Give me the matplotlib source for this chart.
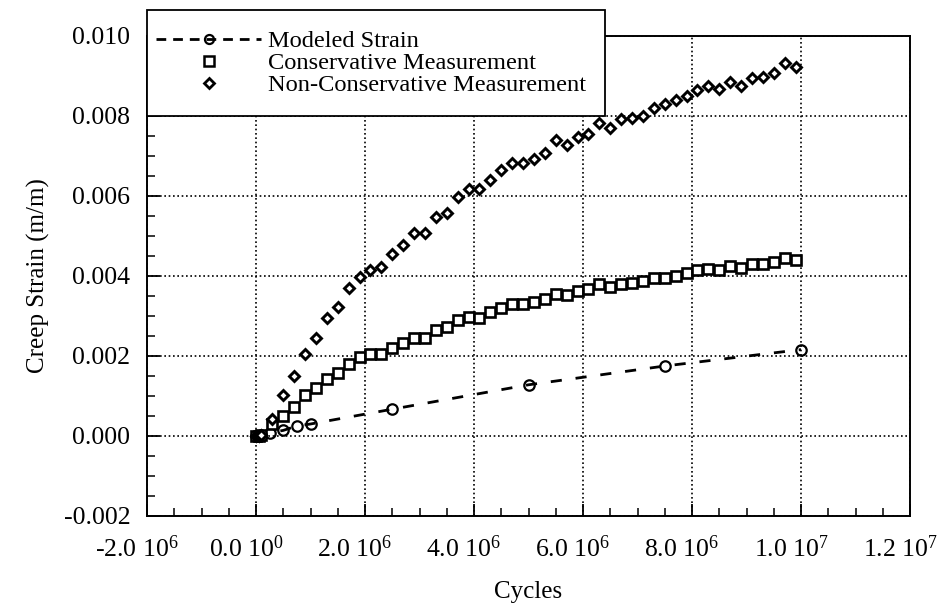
import matplotlib
matplotlib.use("Agg")
import matplotlib.pyplot as plt
from matplotlib.ticker import FixedLocator, MultipleLocator, FixedFormatter
from matplotlib.lines import Line2D
from matplotlib.patches import Rectangle
import matplotlib.transforms as mtransforms

plt.rcParams['font.family'] = ['Liberation Serif', 'DejaVu Serif']
plt.rcParams['mathtext.fontset'] = 'custom'
plt.rcParams['mathtext.rm'] = 'Liberation Serif'
plt.rcParams['mathtext.it'] = 'Liberation Serif:italic'
plt.rcParams['axes.unicode_minus'] = False

# ---------------- data ----------------
modeled_x = [0, 5e4, 1e5, 2.5e5, 5e5, 7.5e5, 1.0e6, 2.5e6, 5.0e6, 7.5e6, 1.0e7]
modeled_y = [0, 0, 0.00002, 0.00008, 0.00014, 0.00025, 0.00030, 0.00067, 0.00128, 0.00175, 0.00216]

meas_x = [0, 5e4, 1e5,
          3e5, 5e5, 7e5, 9e5, 1.1e6, 1.3e6, 1.5e6, 1.7e6, 1.9e6, 2.1e6,
          2.3e6, 2.5e6, 2.7e6, 2.9e6, 3.1e6, 3.3e6, 3.5e6, 3.7e6, 3.9e6, 4.1e6,
          4.3e6, 4.5e6, 4.7e6, 4.9e6, 5.1e6, 5.3e6, 5.5e6, 5.7e6, 5.9e6, 6.1e6,
          6.3e6, 6.5e6, 6.7e6, 6.9e6, 7.1e6, 7.3e6, 7.5e6, 7.7e6, 7.9e6, 8.1e6,
          8.3e6, 8.5e6, 8.7e6, 8.9e6, 9.1e6, 9.3e6, 9.5e6, 9.7e6, 9.9e6]

conservative_y = [0, 0, 0.00002,
                  0.00029, 0.00050, 0.00073, 0.00103, 0.00121, 0.00142, 0.00158, 0.00181, 0.00198, 0.00204,
                  0.00204, 0.00221, 0.00233, 0.00246, 0.00246, 0.00264, 0.00273, 0.00289, 0.00298, 0.00296,
                  0.00310, 0.00321, 0.00329, 0.00329, 0.00335, 0.00343, 0.00354, 0.00352, 0.00363, 0.00368,
                  0.00379, 0.00373, 0.00379, 0.00383, 0.00388, 0.00396, 0.00396, 0.00400, 0.00408, 0.00416,
                  0.00418, 0.00416, 0.00424, 0.00421, 0.00431, 0.00431, 0.00435, 0.00446, 0.00441]

nonconservative_y = [0, 0, 0.00002,
                     0.00042, 0.00103, 0.00150, 0.00206, 0.00246, 0.00294, 0.00323, 0.00369, 0.00398, 0.00414,
                     0.00423, 0.00456, 0.00478, 0.00507, 0.00508, 0.00548, 0.00558, 0.00597, 0.00617, 0.00617,
                     0.00640, 0.00665, 0.00683, 0.00682, 0.00692, 0.00707, 0.00740, 0.00728, 0.00748, 0.00756,
                     0.00783, 0.00769, 0.00792, 0.00796, 0.00800, 0.00819, 0.00829, 0.00839, 0.00851, 0.00865,
                     0.00875, 0.00868, 0.00886, 0.00876, 0.00895, 0.00898, 0.00908, 0.00933, 0.00923]

x_ticks = [-2e6, 0, 2e6, 4e6, 6e6, 8e6, 1e7, 1.2e7]
x_ticklabels = ["-2.0 10$^{6}$", "0.0 10$^{0}$", "2.0 10$^{6}$", "4.0 10$^{6}$",
                "6.0 10$^{6}$", "8.0 10$^{6}$", "1.0 10$^{7}$", "1.2 10$^{7}$"]
y_ticks = [-0.002, 0.0, 0.002, 0.004, 0.006, 0.008, 0.010]
y_ticklabels = ["-0.002", "0.000", "0.002", "0.004", "0.006", "0.008", "0.010"]

labels = ["Modeled Strain", "Conservative Measurement", "Non-Conservative Measurement"]

# ---------------- figure ----------------
W, H = 952, 612
fig = plt.figure(figsize=(W / 100, H / 100), dpi=100)
L, R, T, B = 147, 910, 36, 516
ax = fig.add_axes([L / W, 1 - B / H, (R - L) / W, (B - T) / H])

ax.plot(modeled_x, modeled_y, linestyle=(0, (4, 5)), color='black', linewidth=2.0,
        marker='o', markersize=7.5, markerfacecolor='none', markeredgewidth=1.6,
        markeredgecolor='black', zorder=3)
ax.plot(meas_x, conservative_y, linestyle='none', marker='s', markersize=7.8,
        markerfacecolor='white', markeredgecolor='black', markeredgewidth=1.9, zorder=4)
ax.plot(meas_x, nonconservative_y, linestyle='none', marker='D', markersize=5.6,
        markerfacecolor='white', markeredgecolor='black', markeredgewidth=2.1, zorder=4)

ax.set_xlim(-2e6, 1.2e7)
ax.set_ylim(-0.002, 0.010)

ax.xaxis.set_major_locator(FixedLocator(x_ticks))
ax.xaxis.set_major_formatter(FixedFormatter(x_ticklabels))
ax.xaxis.set_minor_locator(MultipleLocator(5e5))
ax.yaxis.set_major_locator(FixedLocator(y_ticks))
ax.yaxis.set_major_formatter(FixedFormatter(y_ticklabels))
ax.yaxis.set_minor_locator(MultipleLocator(0.0005))

ax.tick_params(axis='both', which='both', direction='in', top=False, right=False,
               colors='black', labelsize=18.5)
ax.tick_params(axis='both', which='major', length=9, width=1.3)
ax.tick_params(axis='both', which='minor', length=6, width=1.1)
ax.tick_params(axis='x', which='major', pad=14)
ax.tick_params(axis='y', which='major', pad=12)

offset = mtransforms.ScaledTranslation(-10 / 100, 0, fig.dpi_scale_trans)
for lab in ax.get_xticklabels():
    lab.set_transform(lab.get_transform() + offset)

for s in ax.spines.values():
    s.set_linewidth(1.4)
    s.set_color('black')

ax.grid(True, which='major', linestyle=(0, (1, 1.6)), color='black', linewidth=1.2)
ax.set_axisbelow(True)

ax.set_xlabel("Cycles", fontsize=18, labelpad=14)
ax.set_ylabel("Creep Strain (m/m)", fontsize=18, labelpad=10)

# legend box (sticks out above the plot frame, left edge on the y axis)
box = Rectangle((L / W, 1 - 116 / H), (605 - L) / W, (116 - 10) / H,
                transform=fig.transFigure, facecolor='white', edgecolor='black',
                linewidth=1.3, zorder=4)
fig.add_artist(box)

handles = [
    Line2D([], [], linestyle=(0, (3.5, 2.5)), color='black', linewidth=2.0, marker='o',
           markersize=6.5, markerfacecolor='none', markeredgewidth=1.6),
    Line2D([], [], linestyle='none', marker='s', markersize=6.8, markerfacecolor='white',
           markeredgecolor='black', markeredgewidth=1.8),
    Line2D([], [], linestyle='none', marker='D', markersize=5.0, markerfacecolor='white',
           markeredgecolor='black', markeredgewidth=2.0),
]
leg = fig.legend(handles, labels, loc='upper left', bbox_to_anchor=(156 / W, 1 - 30 / H),
                 bbox_transform=fig.transFigure, fontsize=17.6, frameon=False,
                 handlelength=4.3, handletextpad=0.3, labelspacing=0.0,
                 borderpad=0.0, borderaxespad=0.0, numpoints=1)
leg.set_zorder(5)

fig.savefig("out.png", dpi=100)
